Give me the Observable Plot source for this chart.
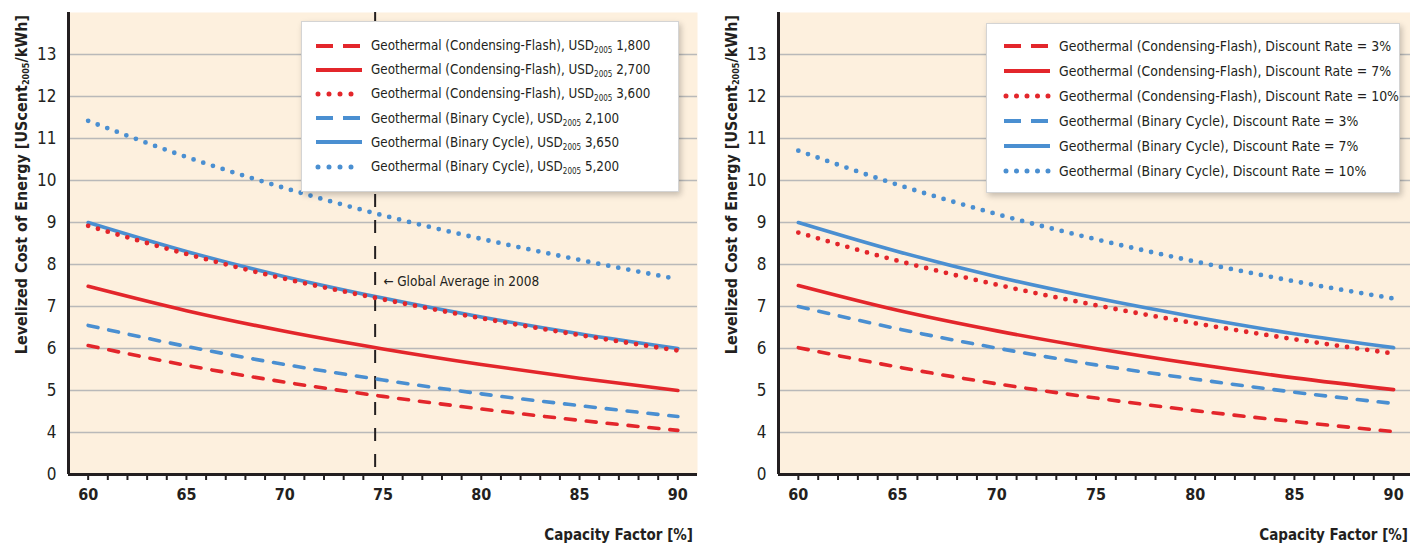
<!DOCTYPE html>
<html><head><meta charset="utf-8">
<script src="https://cdn.jsdelivr.net/npm/d3@7"></script>
<script src="https://cdn.jsdelivr.net/npm/@observablehq/plot@0.6"></script>
<style>
body{margin:0;background:#fff;overflow:hidden;font-family:"DejaVu Sans Condensed","DejaVu Sans",sans-serif;color:#231f20;}
#wrap{position:relative;width:1410px;height:544px;}
.panel{position:absolute;top:0;}
.legend{position:absolute;background:#fff;border:1px solid #d4d4d4;box-shadow:2px 3px 6px rgba(0,0,0,0.22);color:#231f20;}
.row{position:absolute;display:flex;align-items:center;white-space:nowrap;height:20px;}
.row svg{display:block;}
.row span{margin-left:8px;}
sub{font-size:8px;vertical-align:-3px;line-height:0;}
</style></head><body><div id="wrap"></div>
<script>
// ---------- data ----------
const capacityFactor = [60, 65, 70, 75, 80, 85, 90];
const globalAverageCF = 74.6;
const yTicks = [3, 4, 5, 6, 7, 8, 9, 10, 11, 12, 13]; // 3 stands for the broken-axis "0"
const yTickLabels = ["0", "4", "5", "6", "7", "8", "9", "10", "11", "12", "13"];

// left panel: investment cost sensitivity (USD2005/kW)
const leftTech = ["Condensing-Flash", "Condensing-Flash", "Condensing-Flash", "Binary Cycle", "Binary Cycle", "Binary Cycle"];
const leftCost = ["1,800", "2,700", "3,600", "2,100", "3,650", "5,200"];
const flash1800 = [6.07, 5.60, 5.20, 4.86, 4.56, 4.29, 4.05];
const flash2700 = [7.48, 6.90, 6.41, 5.99, 5.62, 5.29, 5.00];
const flash3600 = [8.92, 8.25, 7.66, 7.17, 6.72, 6.32, 5.95];
const binary2100 = [6.55, 6.05, 5.62, 5.25, 4.92, 4.64, 4.38];
const binary3650 = [9.00, 8.31, 7.71, 7.20, 6.75, 6.35, 6.00];
const binary5200 = [11.42, 10.56, 9.82, 9.17, 8.61, 8.11, 7.65];

// right panel: discount rate sensitivity
const rightTech = ["Condensing-Flash", "Condensing-Flash", "Condensing-Flash", "Binary Cycle", "Binary Cycle", "Binary Cycle"];
const rightRate = ["3%", "7%", "10%", "3%", "7%", "10%"];
const flash3 = [6.02, 5.56, 5.16, 4.82, 4.52, 4.26, 4.02];
const flash7 = [7.50, 6.91, 6.42, 6.00, 5.63, 5.30, 5.02];
const flash10 = [8.76, 8.09, 7.52, 7.03, 6.60, 6.22, 5.88];
const binary3 = [7.00, 6.47, 6.01, 5.61, 5.27, 4.96, 4.69];
const binary7 = [9.00, 8.31, 7.71, 7.20, 6.75, 6.35, 6.02];
const binary10 = [10.71, 9.90, 9.20, 8.60, 8.07, 7.60, 7.19];

const lineStyles = ["dashed", "solid", "dotted", "dashed", "solid", "dotted"];
const techColors = {"Condensing-Flash": "#e3262b", "Binary Cycle": "#4a8fd1"};
const FONT = '"DejaVu Sans Condensed","DejaVu Sans",sans-serif';

// ---------- helpers ----------
const styleOpts = {
  dashed: {strokeWidth: 3.6, strokeDasharray: "10,11", strokeLinecap: "round"},
  solid: {strokeWidth: 3.6},
  dotted: {strokeWidth: 4.8, strokeDasharray: "0,10.2", strokeLinecap: "round"}
};

function rowsOf(values) { return capacityFactor.map((cf, i) => ({cf, v: values[i]})); }

function panel({seriesValues, tech, xDomain, marginLeft, marginRight, annotate, xLabelRight}) {
  const marks = [
    Plot.frame({fill: "#fdf0de", stroke: null}),
    Plot.gridY(yTicks.slice(1), {stroke: "#b9b9b9", strokeOpacity: 1, strokeWidth: 1.6})
  ];
  if (annotate) {
    marks.push(Plot.ruleX([globalAverageCF], {stroke: "#231f20", strokeWidth: 2, strokeDasharray: "13,13"}));
    marks.push(Plot.text([{x: globalAverageCF, y: 7.6}], {x: "x", y: "y", text: () => "\u2190 Global Average in 2008", textAnchor: "start", dx: 8, fontSize: 13.5, fill: "#231f20"}));
  }
  // blue (binary) first, red on top
  const order = [3, 4, 5, 0, 1, 2];
  for (const i of order) {
    marks.push(Plot.line(rowsOf(seriesValues[i]), {x: "cf", y: "v", curve: "monotone-x", stroke: techColors[tech[i]], ...styleOpts[lineStyles[i]]}));
  }
  marks.push(Plot.axisY({ticks: yTicks, tickSize: 0, tickPadding: 12, tickFormat: (d) => yTickLabels[yTicks.indexOf(d)], fontSize: 17, label: null}));
  marks.push(Plot.axisX({ticks: d3.range(60, 91), tickSize: 6, tickPadding: 8, strokeWidth: 2, tickFormat: (d) => d % 5 === 0 ? d : "", fontSize: 16, fontWeight: "bold", label: null}));
  marks.push(Plot.ruleX([xDomain[0]], {stroke: "#231f20", strokeWidth: 3}));
  marks.push(Plot.ruleY([3], {stroke: "#231f20", strokeWidth: 3}));
  const svg = Plot.plot({
    width: 705, height: 544,
    marginLeft, marginRight, marginTop: 12, marginBottom: 70,
    style: {fontFamily: FONT, color: "#231f20", background: "transparent"},
    x: {domain: xDomain},
    y: {domain: [3, 14]},
    marks
  });
  const s = d3.select(svg);
  // y axis title with subscript
  const t = s.append("text")
    .attr("transform", `translate(${marginLeft - 46},15) rotate(-90)`)
    .attr("text-anchor", "end").attr("dominant-baseline", "middle")
    .attr("font-weight", "bold").attr("font-size", 16).attr("fill", "#231f20");
  t.append("tspan").text("Levelized Cost of Energy [UScent");
  t.append("tspan").attr("font-size", 9).attr("dy", 4).text("2005");
  t.append("tspan").attr("dy", -4).text("/kWh]");
  // x axis title
  s.append("text").attr("x", xLabelRight).attr("y", 540).attr("text-anchor", "end")
    .attr("font-weight", "bold").attr("font-size", 15).attr("fill", "#231f20").text("Capacity Factor [%]");
  return svg;
}

const wrap = document.getElementById("wrap");
const leftSvg = panel({seriesValues: [flash1800, flash2700, flash3600, binary2100, binary3650, binary5200], tech: leftTech, xDomain: [59, 91], marginLeft: 68, marginRight: 8, annotate: true, xLabelRight: 693});
const rightSvg = panel({seriesValues: [flash3, flash7, flash10, binary3, binary7, binary10], tech: rightTech, xDomain: [59, 90.85], marginLeft: 73, marginRight: 0, annotate: false, xLabelRight: 703});
const p1 = document.createElement("div"); p1.className = "panel"; p1.style.left = "0px"; p1.appendChild(leftSvg);
const p2 = document.createElement("div"); p2.className = "panel"; p2.style.left = "705px"; p2.appendChild(rightSvg);
wrap.appendChild(p1); wrap.appendChild(p2);

// ---------- legends ----------
function sample(style, color, dotted) {
  const ns = "http://www.w3.org/2000/svg";
  const s = document.createElementNS(ns, "svg");
  s.setAttribute("width", 48); s.setAttribute("height", 10);
  const l = document.createElementNS(ns, "line");
  l.setAttribute("y1", 5); l.setAttribute("y2", 5); l.setAttribute("stroke", color);
  if (style === "dashed") { l.setAttribute("x1", 1); l.setAttribute("x2", 47); l.setAttribute("stroke-width", 4); l.setAttribute("stroke-dasharray", "17,10"); }
  else if (style === "solid") { l.setAttribute("x1", 1); l.setAttribute("x2", 47); l.setAttribute("stroke-width", 4); }
  else { l.setAttribute("x1", 3); l.setAttribute("x2", 46); l.setAttribute("stroke-width", 5); l.setAttribute("stroke-linecap", "round"); l.setAttribute("stroke-dasharray", dotted); }
  s.appendChild(l);
  return s;
}
function legend({left, top, width, height, rowTop, rowStep, sampleLeft, labels, tech, dotted, fontSize}) {
  const box = document.createElement("div"); box.className = "legend";
  Object.assign(box.style, {left: left + "px", top: top + "px", width: width + "px", height: height + "px", fontSize: fontSize + "px"});
  labels.forEach((html, i) => {
    const r = document.createElement("div"); r.className = "row";
    r.style.left = sampleLeft + "px"; r.style.top = (rowTop + i * rowStep - 10) + "px";
    r.appendChild(sample(lineStyles[i], techColors[tech[i]], dotted));
    const sp = document.createElement("span"); sp.innerHTML = html; r.appendChild(sp);
    box.appendChild(r);
  });
  wrap.appendChild(box);
}
legend({left: 301, top: 21, width: 376, height: 169, rowTop: 23.5, rowStep: 24.2, sampleLeft: 13, tech: leftTech, dotted: "0,11", fontSize: 13.3,
  labels: leftTech.map((t, i) => `Geothermal (${t}), USD<sub>2005</sub> ${leftCost[i]}`)});
legend({left: 986, top: 23, width: 412, height: 168, rowTop: 21.5, rowStep: 25, sampleLeft: 16, tech: rightTech, dotted: "0,10.5", fontSize: 13.9,
  labels: rightTech.map((t, i) => `Geothermal (${t}), Discount Rate = ${rightRate[i]}`)});
</script></body></html>
